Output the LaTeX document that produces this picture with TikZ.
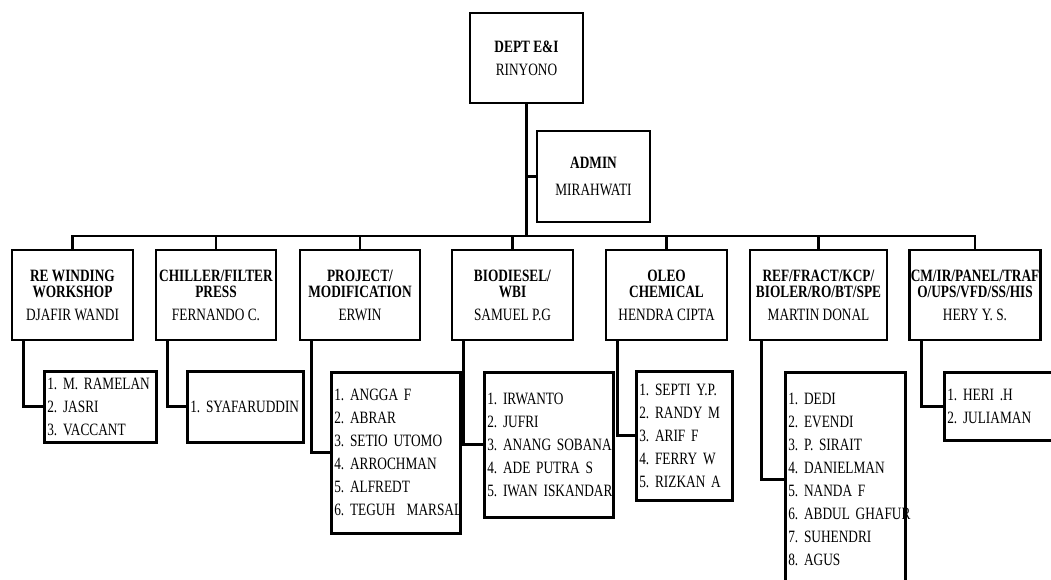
\documentclass[tikz,border=0pt]{standalone}
\usepackage{fontspec}
\setmainfont[FakeStretch=0.77]{Liberation Serif}
\frenchspacing
\hyphenpenalty=10000

\tikzset{
	unit/.style={draw=black, line width=2.6, align=center, inner sep=1,
		font=\fontsize{17.3}{16}\selectfont},
	crew/.style={draw=black, line width=2.6, align=left, anchor=north west,
		inner xsep=3, inner ysep=0, font=\fontsize{17.3}{23}\selectfont},
	link/.style={draw=black, line width=2.8}
}

\begin{document}
\begin{tikzpicture}[x=1pt,y=-1pt]
			\useasboundingbox (0,0) rectangle (1051,580);

			\node[unit, minimum width=113, minimum height=90] (dept) at (526.5,58) {\textbf{DEPT E\&I}\\[7pt]RINYONO};
			\node[unit, minimum width=113, minimum height=91] (admin) at (593.5,176.5) {\textbf{ADMIN}\\[11pt]MIRAHWATI};

			\node[unit, minimum width=121, minimum height=90] (u1) at (72.5,295) {\textbf{RE WINDING}\\\textbf{WORKSHOP}\\[7pt]DJAFIR WANDI};
			\node[unit, minimum width=120, minimum height=90] (u2) at (216,295) {\textbf{CHILLER/FILTER}\\\textbf{PRESS}\\[7pt]FERNANDO C.};
			\node[unit, minimum width=120, minimum height=90] (u3) at (360,295) {\textbf{PROJECT/}\\\textbf{MODIFICATION}\\[7pt]ERWIN};
			\node[unit, minimum width=121, minimum height=90] (u4) at (512.5,295) {\textbf{BIODIESEL/}\\\textbf{WBI}\\[7pt]SAMUEL P.G};
			\node[unit, minimum width=121, minimum height=90] (u5) at (666.5,295) {\textbf{OLEO}\\\textbf{CHEMICAL}\\[7pt]HENDRA CIPTA};
			\node[unit, minimum width=137, minimum height=90] (u6) at (818.5,295) {\textbf{REF/FRACT/KCP/}\\\textbf{BIOLER/RO/BT/SPE}\\[7pt]MARTIN DONAL};
			\node[unit, minimum width=130, minimum height=90] (u7) at (975,295) {\textbf{CM/IR/PANEL/TRAF}\\\textbf{O/UPS/VFD/SS/HIS}\\[7pt]HERY Y. S.};

			\node[crew, text width=106, minimum height=71] (m1) at (43,370) {1.~M.~RAMELAN\\2.~JASRI\\3.~VACCANT};
			\node[crew, text width=110, minimum height=71] (m2) at (186,370) {1.~SYAFARUDDIN};
			\node[crew, text width=123, minimum height=161] (m3) at (330,371) {1.~ANGGA~F\\2.~ABRAR\\3.~SETIO~UTOMO\\4.~ARROCHMAN\\5.~ALFREDT\\6.~TEGUH~~MARSAL};
			\node[crew, text width=123, minimum height=145] (m4) at (483,371) {1.~IRWANTO\\2.~JUFRI\\3.~ANANG~SOBANA\\4.~ADE~PUTRA~S\\5.~IWAN~ISKANDAR};
			\node[crew, text width=90, minimum height=129] (m5) at (635,370) {1.~SEPTI~Y.P.\\2.~RANDY~M\\3.~ARIF~F\\4.~FERRY~W\\5.~RIZKAN~A};
			\node[crew, text width=114, minimum height=214] (m6) at (784,371) {1.~DEDI\\2.~EVENDI\\3.~P.~SIRAIT\\4.~DANIELMAN\\5.~NANDA~F\\6.~ABDUL~GHAFUR\\7.~SUHENDRI\\8.~AGUS};
			\node[crew, text width=109, minimum height=68] (m7) at (943,371) {1.~HERI~.H\\2.~JULIAMAN};

			\coordinate (bus) at (0,236);
			\draw[link] (dept.south) -- (dept.south |- bus);
			\draw[link] (dept.south |- admin.west) -- (admin.west);
			\draw[link] (u1.north) -- (u1.north |- bus) -- (u7.north |- bus) -- (u7.north);
			\foreach \u in {u2,u3,u4,u5,u6}
				\draw[link] (\u.north |- bus) -- (\u.north);
			\foreach \u/\m in {u1/m1,u2/m2,u3/m3,u4/m4,u5/m5,u6/m6,u7/m7}
				\draw[link] ([xshift=13]\u.south west) |- (\m.west);
		\end{tikzpicture}
\end{document}
